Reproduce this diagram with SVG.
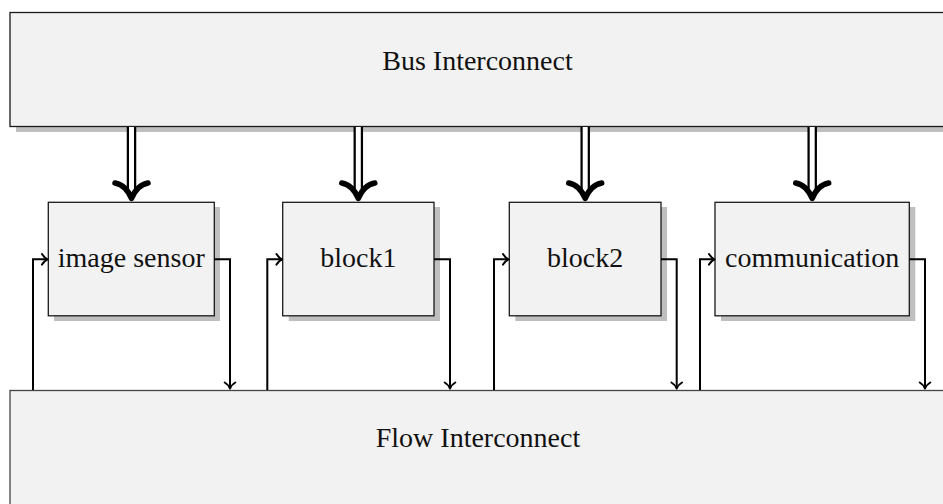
<svg xmlns="http://www.w3.org/2000/svg" width="943" height="504" viewBox="0 0 943 504">
<style>
.box{fill:#f2f2f2;stroke:#1a1a1a;stroke-width:1.3}
.shadow{fill:#bfbfbf}
.lbl{font-family:"Liberation Serif","Times New Roman",serif;font-size:28px;fill:#111;text-anchor:middle}
.wire{fill:none;stroke:#000;stroke-width:2}
.head{fill:none;stroke:#000;stroke-width:2;stroke-linecap:round;stroke-linejoin:round}
.dblo{fill:none;stroke:#000;stroke-width:9.5}
.dbli{fill:none;stroke:#fff;stroke-width:5}
.bighead{fill:none;stroke:#000;stroke-width:5.5;stroke-linecap:round;stroke-linejoin:round}
</style>
<rect width="943" height="504" fill="#fff"/>
<g id="bus">
<rect class="shadow" x="16" y="18" width="936" height="114"/>
<rect class="box" x="10" y="12.5" width="936" height="114"/>
<text class="lbl" x="477.5" y="70">Bus Interconnect</text>
</g>
<g id="flow">
<rect class="box" x="10" y="390.5" width="936" height="130" style="stroke:#444"/>
<text class="lbl" x="478" y="446.5">Flow Interconnect</text>
</g>
<g id="image_sensor">
<rect class="shadow" x="54" y="207" width="166" height="114"/>
<rect class="box" x="48.3" y="202.3" width="166" height="113.5"/>
<text class="lbl" x="131.3" y="267">image sensor</text>
</g>
<g id="block1">
<rect class="shadow" x="288.7" y="207" width="151.3" height="114"/>
<rect class="box" x="282.7" y="202.3" width="151.3" height="113.5"/>
<text class="lbl" x="358.3" y="267">block1</text>
</g>
<g id="block2">
<rect class="shadow" x="515.3" y="207" width="151.7" height="114"/>
<rect class="box" x="509.3" y="202.3" width="151.7" height="113.5"/>
<text class="lbl" x="585.2" y="267">block2</text>
</g>
<g id="communication">
<rect class="shadow" x="721" y="207" width="194.3" height="114"/>
<rect class="box" x="715" y="202.3" width="194.3" height="113.5"/>
<text class="lbl" x="812.2" y="267">communication</text>
</g>
<g id="connectors">
<!-- bus double arrows -->
<g>
<path class="dblo" d="M131.5,127 V194"/><path class="dbli" d="M131.5,127 V195"/>
<path class="bighead" d="M115,183 Q126,185 131.5,198.5 Q137,185 148,183"/>
<path class="dblo" d="M358.3,127 V194"/><path class="dbli" d="M358.3,127 V195"/>
<path class="bighead" d="M341.8,183 Q352.8,185 358.3,198.5 Q363.8,185 374.8,183"/>
<path class="dblo" d="M585.2,127 V194"/><path class="dbli" d="M585.2,127 V195"/>
<path class="bighead" d="M568.7,183 Q579.7,185 585.2,198.5 Q590.7,185 601.7,183"/>
<path class="dblo" d="M812.2,127 V194"/><path class="dbli" d="M812.2,127 V195"/>
<path class="bighead" d="M795.7,183 Q806.7,185 812.2,198.5 Q817.7,185 828.7,183"/>
</g>
<!-- flow inputs -->
<path class="wire" d="M33,390 V259.3 H47"/>
<path class="head" d="M42,254 Q44,257.5 47.5,259.3 Q44,261 42,264.6"/>
<path class="wire" d="M267.3,390 V259.3 H281.5"/>
<path class="head" d="M276.5,254 Q278.5,257.5 282,259.3 Q278.5,261 276.5,264.6"/>
<path class="wire" d="M494,390 V259.3 H508"/>
<path class="head" d="M503,254 Q505,257.5 508.5,259.3 Q505,261 503,264.6"/>
<path class="wire" d="M700,390 V259.3 H714"/>
<path class="head" d="M709,254 Q711,257.5 714.5,259.3 Q711,261 709,264.6"/>
<!-- flow outputs -->
<path class="wire" d="M214.3,259.3 H230 V388"/>
<path class="head" d="M224.7,382.5 Q228.3,384.5 230,388.5 Q231.7,384.5 235.3,382.5"/>
<path class="wire" d="M434,259.3 H450 V388"/>
<path class="head" d="M444.7,382.5 Q448.3,384.5 450,388.5 Q451.7,384.5 455.3,382.5"/>
<path class="wire" d="M661,259.3 H676.7 V388"/>
<path class="head" d="M671.4,382.5 Q675,384.5 676.7,388.5 Q678.4,384.5 682,382.5"/>
<path class="wire" d="M909.3,259.3 H925 V388"/>
<path class="head" d="M919.7,382.5 Q923.3,384.5 925,388.5 Q926.7,384.5 930.3,382.5"/>
</g>
</svg>
